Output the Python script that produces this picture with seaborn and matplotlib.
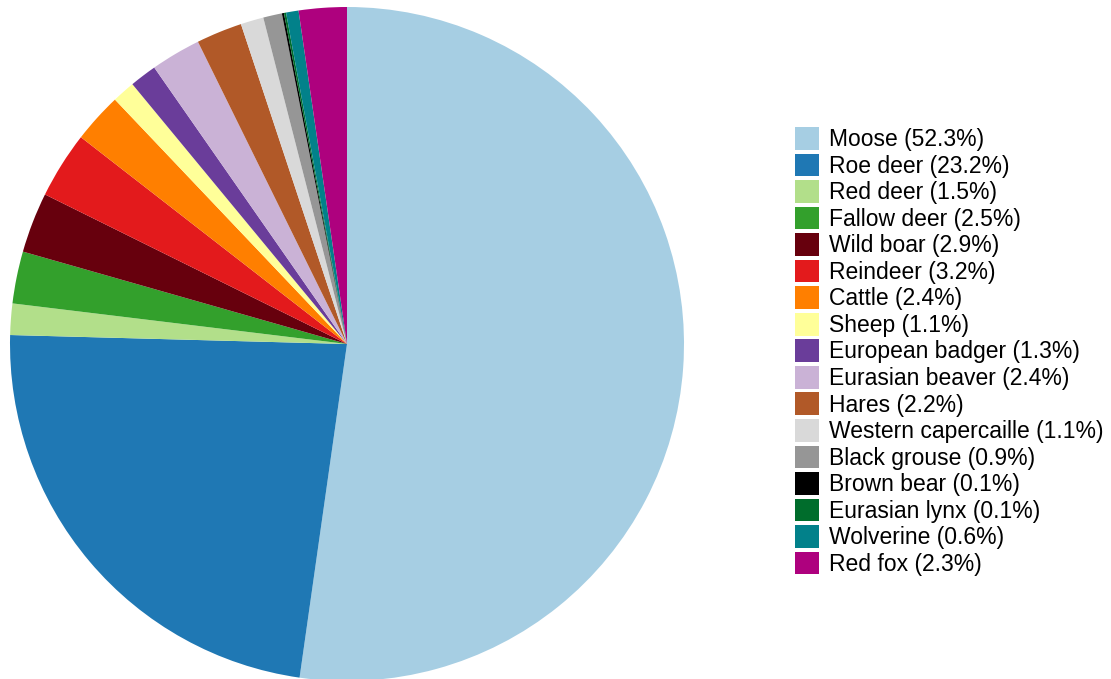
import numpy as np
import seaborn as sns
import matplotlib.pyplot as plt

species = ['Moose', 'Roe deer', 'Red deer', 'Fallow deer', 'Wild boar', 'Reindeer',
           'Cattle', 'Sheep', 'European badger', 'Eurasian beaver', 'Hares',
           'Western capercaille', 'Black grouse', 'Brown bear', 'Eurasian lynx',
           'Wolverine', 'Red fox']
shares = [52.3, 23.2, 1.5, 2.5, 2.9, 3.2, 2.4, 1.1, 1.3, 2.4, 2.2, 1.1, 0.9, 0.1, 0.1, 0.6, 2.3]
colors = ['#a6cee3', '#1f78b4', '#b2df8a', '#33a02c', '#67000d', '#e31a1c', '#ff7f00',
          '#ffff99', '#6a3d9a', '#cab2d6', '#b15928', '#d9d9d9', '#969696', '#000000',
          '#006d2c', '#02818a', '#ae017e']

sns.set_theme(style='white')
plt.rcParams['font.family'] = ['Liberation Sans', 'DejaVu Sans']

fig = plt.figure(figsize=(11.11, 6.79), dpi=100)
ax = fig.add_axes([10 / 1111, -2 / 679, 674 / 1111, 674 / 679])

# pie starts at 12 o'clock and runs clockwise
wedges, _ = ax.pie(shares, colors=sns.color_palette(colors), startangle=90,
                   counterclock=False, radius=1.0,
                   wedgeprops={'linewidth': 0})
ax.set_xlim(-1, 1)
ax.set_ylim(-1, 1)
ax.set_aspect('equal')
ax.axis('off')

labels = [f'{s} ({v}%)' for s, v in zip(species, shares)]
fig.legend(wedges, labels, loc='upper left',
           bbox_to_anchor=(795 / 1111, 1 - 127 / 679),
           frameon=False, fontsize=16.5, handlelength=1.05, handleheight=1.15,
           handletextpad=0.42, labelspacing=0.105, borderpad=0, borderaxespad=0,
           labelcolor='black')

plt.savefig('out.png', dpi=100)
